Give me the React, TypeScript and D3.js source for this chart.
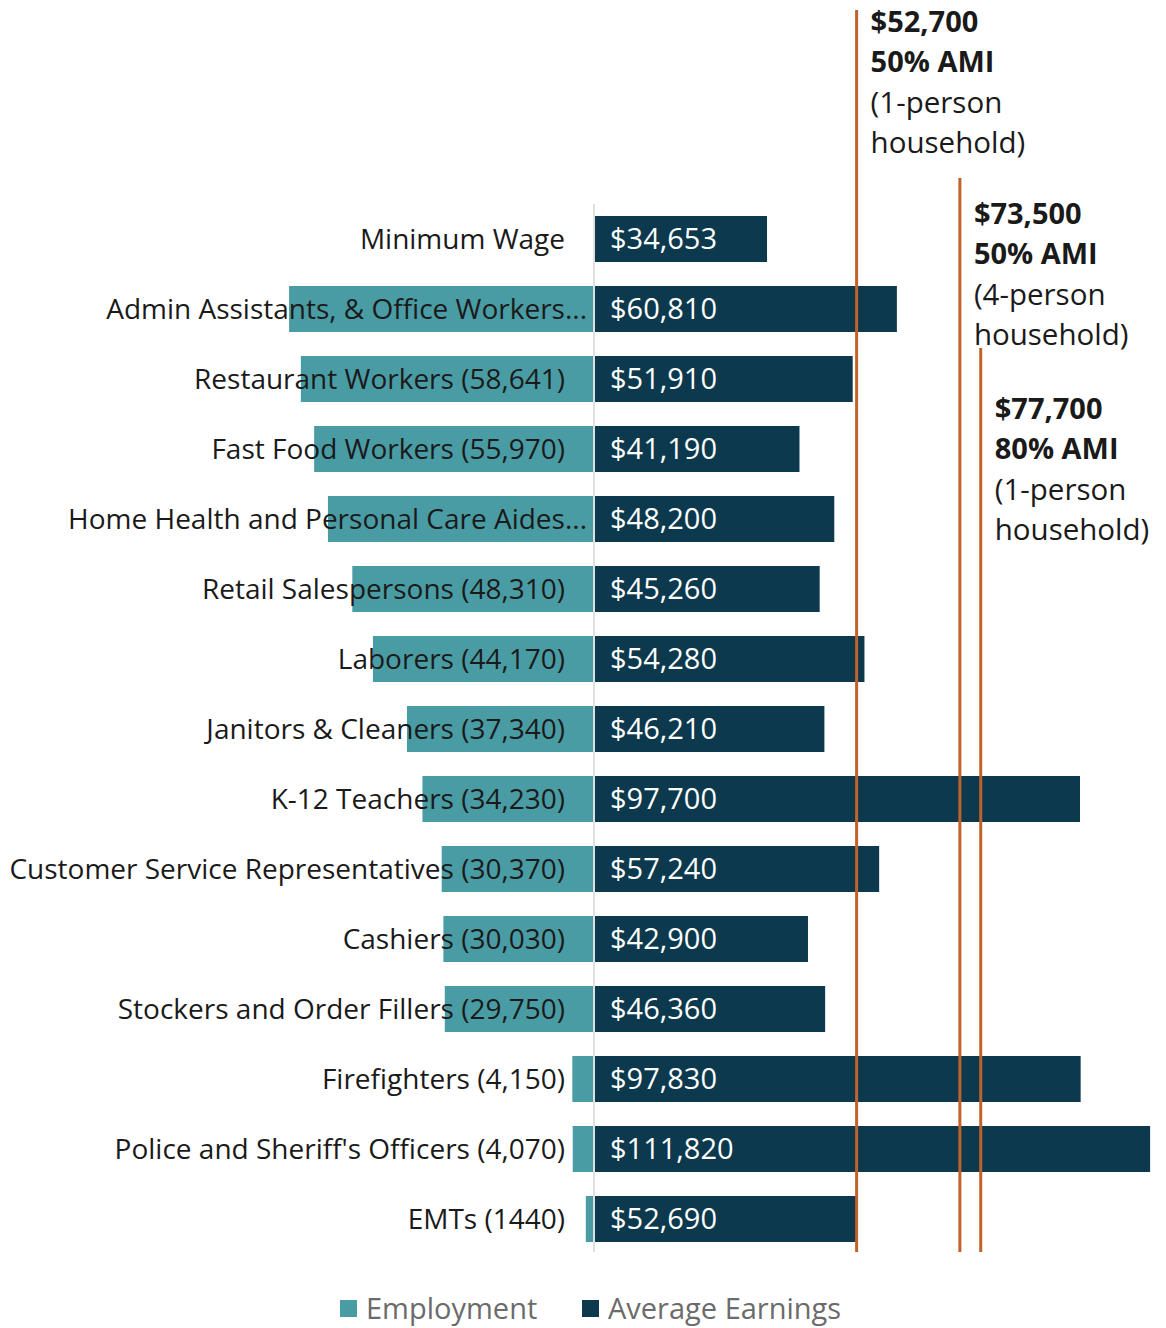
import React from "react";
import * as d3 from "d3";

const categories = [
  "Minimum Wage",
  "Admin Assistants, & Office Workers...",
  "Restaurant Workers (58,641)",
  "Fast Food Workers (55,970)",
  "Home Health and Personal Care Aides...",
  "Retail Salespersons (48,310)",
  "Laborers (44,170)",
  "Janitors & Cleaners (37,340)",
  "K-12 Teachers (34,230)",
  "Customer Service Representatives (30,370)",
  "Cashiers (30,030)",
  "Stockers and Order Fillers (29,750)",
  "Firefighters (4,150)",
  "Police and Sheriff's Officers (4,070)",
  "EMTs (1440)",
];
const employment = [0, 61000, 58641, 55970, 53200, 48310, 44170, 37340, 34230, 30370, 30030, 29750, 4150, 4070, 1440];
const earnings = [34653, 60810, 51910, 41190, 48200, 45260, 54280, 46210, 97700, 57240, 42900, 46360, 97830, 111820, 52690];

const amiValues = [52700, 73500, 77700];
const amiLabels = [
  ["$52,700", "50% AMI", "(1-person", "household)"],
  ["$73,500", "50% AMI", "(4-person", "household)"],
  ["$77,700", "80% AMI", "(1-person", "household)"],
];
const amiTops = [10, 178, 348];
const amiLabelY = [22, 214, 409];

const legendItems = ["Employment", "Average Earnings"];

const TEAL = "#4a9ca4";
const DARK = "#0c394d";
const ORANGE = "#c0622a";
const FONT = "'Open Sans', sans-serif";

export default function App() {
  const W = 1166, H = 1328;
  const x0 = 594;
  const xR = d3.scaleLinear().domain([0, 112000]).range([x0 + 1, x0 + 1 + 556]);
  const xL = d3.scaleLinear().domain([0, 112000]).range([x0 - 1, x0 - 1 - 558]);
  const y = d3.scalePoint<string>().domain(categories).range([239, 1219]);
  const bh = 46;
  const fmt = (v: number) => "$" + d3.format(",")(v);

  return (
    <div style={{ position: "absolute", left: 0, top: 0 }}>
      <svg width={W} height={H} style={{ display: "block", fontFamily: FONT }}>
        <rect width={W} height={H} fill="#fff" />
        {categories.map((c, i) => (
          <g key={c}>
            {employment[i] > 0 && (
              <rect
                x={xL(employment[i])}
                y={(y(c) as number) - bh / 2}
                width={xL(0) - xL(employment[i])}
                height={bh}
                fill={TEAL}
              />
            )}
          </g>
        ))}
        <line x1={x0} x2={x0} y1={204} y2={1252} stroke="#d6d6d6" strokeWidth={1.5} />
        {categories.map((c, i) => (
          <g key={"e" + c}>
            <rect
              x={xR(0)}
              y={(y(c) as number) - bh / 2}
              width={xR(earnings[i]) - xR(0)}
              height={bh}
              fill={DARK}
            />
            <text
              x={xR(0) + 15}
              y={y(c) as number}
              dy="0.36em"
              fill="#fff"
              fontSize={29}
            >
              {fmt(earnings[i])}
            </text>
            <text
              x={c.endsWith("...") ? 587 : 565}
              y={y(c) as number}
              dy="0.36em"
              textAnchor="end"
              fill="#1a1a1a"
              fontSize={28}
            >
              {c}
            </text>
          </g>
        ))}
        {amiValues.map((v, i) => (
          <g key={"a" + i}>
            <line
              x1={xR(v)}
              x2={xR(v)}
              y1={amiTops[i]}
              y2={1252}
              stroke={ORANGE}
              strokeWidth={3}
            />
            {amiLabels[i].map((t, j) => (
              <text
                key={j}
                x={xR(v) + 14}
                y={amiLabelY[i] + j * 40}
                dy="0.36em"
                fontSize={j < 2 ? 29 : 29.5}
                fontWeight={j < 2 ? 700 : 400}
                fill="#1a1a1a"
              >
                {t}
              </text>
            ))}
          </g>
        ))}
        {legendItems.map((t, i) => {
          const lx = i === 0 ? 340 : 582;
          return (
            <g key={t}>
              <rect x={lx} y={1300} width={17} height={17} fill={i === 0 ? TEAL : DARK} />
              <text x={lx + 26} y={1308.5} dy="0.36em" fontSize={29} fill="#6b6b6b">
                {t}
              </text>
            </g>
          );
        })}
      </svg>
    </div>
  );
}
